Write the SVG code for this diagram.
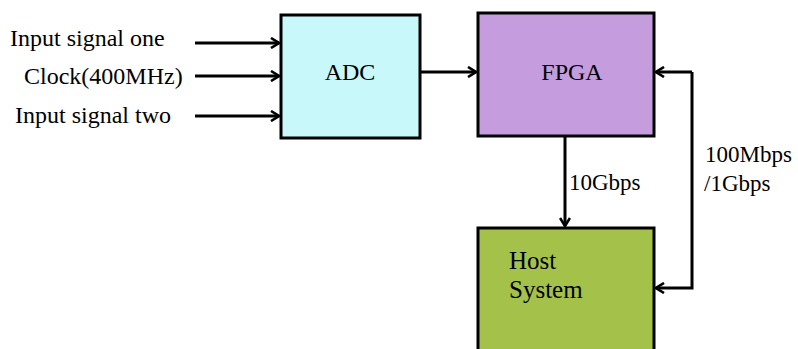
<svg xmlns="http://www.w3.org/2000/svg" width="798" height="349" viewBox="0 0 798 349">
  <style>
    .box { stroke: #000; stroke-width: 3; }
    .lbl { font-family: "Liberation Serif", "Times New Roman", serif; fill: #000; }
    .wire { fill: none; stroke: #000; stroke-width: 3; }
  </style>
  <defs>
    <marker id="arrow" viewBox="0 0 12 12" refX="11" refY="6" markerWidth="12" markerHeight="12" markerUnits="userSpaceOnUse" orient="auto">
      <polyline points="3,1 11,6 3,11" fill="none" stroke="#000" stroke-width="2.6"/>
    </marker>
  </defs>
  <rect width="798" height="349" fill="#fff"/>

  <g id="inputs" class="lbl" font-size="24">
    <text x="10" y="46">Input signal one</text>
    <text x="24" y="84">Clock(400MHz)</text>
    <text x="15" y="123">Input signal two</text>
  </g>

  <g id="adc">
    <rect class="box" x="281" y="15" width="139" height="123" fill="#C9F8FA"/>
    <text class="lbl" x="350" y="80" font-size="24" text-anchor="middle">ADC</text>
  </g>

  <g id="fpga">
    <rect class="box" x="478" y="13" width="176" height="123" fill="#C59DDF"/>
    <text class="lbl" x="572" y="80" font-size="24" text-anchor="middle">FPGA</text>
  </g>

  <g id="host">
    <rect class="box" x="478" y="228" width="176" height="130" fill="#A4C14A"/>
    <text class="lbl" x="509" y="269" font-size="25">Host</text>
    <text class="lbl" x="509" y="298" font-size="25">System</text>
  </g>

  <g id="connectors">
    <line class="wire" x1="195" y1="43" x2="279" y2="43" marker-end="url(#arrow)"/>
    <line class="wire" x1="195" y1="76" x2="279" y2="76" marker-end="url(#arrow)"/>
    <line class="wire" x1="195" y1="116" x2="279" y2="116" marker-end="url(#arrow)"/>
    <line class="wire" x1="421" y1="72" x2="476" y2="72" marker-end="url(#arrow)"/>
    <line class="wire" x1="565" y1="137" x2="565" y2="226" stroke-width="2.5" marker-end="url(#arrow)"/>
    <polyline class="wire" points="692,72 692,288 656,288" marker-end="url(#arrow)"/>
    <line class="wire" x1="692" y1="72" x2="656" y2="72" marker-end="url(#arrow)"/>
    <g class="lbl" font-size="23">
      <text x="569" y="190">10Gbps</text>
      <text x="705" y="162">100Mbps</text>
      <text x="704" y="191">/1Gbps</text>
    </g>
  </g>
</svg>
